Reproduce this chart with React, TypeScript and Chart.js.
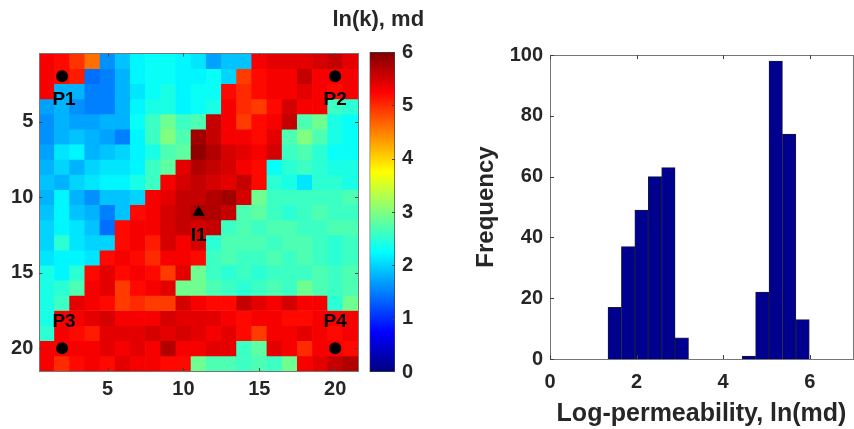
import React, { useEffect, useRef } from 'react';
import { Chart, registerables } from 'chart.js';

Chart.register(...registerables);

// ln(k) field on a 21 x 21 grid, row 1 at the top
const lnkRows: number[][] = [
  [5.3, 5.2, 4.95, 4.6, 1.6, 1.9, 2.2, 2.3, 2.3, 2.2, 2.1, 1.7, 1.9, 1.9, 5.3, 5.4, 5.4, 5.4, 5.5, 5.6, 5.4],
  [5.3, 5.2, 5.1, 1.4, 1.5, 1.8, 2.2, 2.3, 2.3, 2.2, 2.2, 2.3, 2.0, 4.9, 5.2, 5.3, 5.3, 5.6, 5.3, 5.3, 5.3],
  [5.3, 1.8, 1.8, 1.5, 1.5, 1.8, 2.1, 2.3, 2.4, 2.2, 2.3, 2.3, 5.2, 5.0, 5.2, 5.3, 5.3, 5.4, 5.3, 5.2, 5.3],
  [1.7, 1.8, 1.6, 1.5, 1.5, 1.8, 2.2, 2.4, 2.4, 2.2, 2.3, 2.4, 5.3, 5.0, 4.9, 5.2, 5.5, 5.3, 5.3, 2.6, 2.5],
  [1.6, 1.8, 1.7, 1.7, 1.8, 1.8, 2.3, 2.6, 2.9, 2.6, 2.7, 5.6, 5.3, 4.9, 5.2, 5.3, 5.6, 2.7, 2.9, 2.4, 2.3],
  [1.6, 1.8, 1.9, 1.8, 1.7, 1.5, 2.2, 2.6, 3.0, 2.7, 5.8, 5.6, 5.3, 5.3, 5.2, 5.4, 2.7, 3.0, 2.7, 2.4, 2.3],
  [1.7, 2.1, 2.2, 1.8, 1.9, 2.0, 2.2, 2.4, 2.7, 2.8, 5.9, 5.7, 5.5, 5.4, 5.3, 5.5, 2.6, 2.7, 2.5, 2.3, 2.3],
  [1.8, 2.0, 1.8, 2.0, 2.1, 2.1, 2.2, 2.6, 2.8, 5.4, 5.7, 5.6, 5.5, 5.3, 5.2, 2.3, 2.5, 2.6, 2.5, 2.4, 2.4],
  [1.9, 1.8, 2.0, 2.1, 2.2, 2.2, 2.4, 2.6, 5.3, 5.5, 5.6, 5.5, 5.4, 5.6, 5.2, 2.5, 2.4, 2.1, 2.5, 2.5, 2.4],
  [1.8, 2.2, 1.8, 1.6, 1.9, 1.9, 2.0, 5.3, 5.4, 5.6, 5.6, 5.7, 5.8, 5.5, 2.9, 2.6, 2.6, 2.6, 2.6, 2.6, 2.7],
  [1.9, 2.2, 1.9, 1.8, 1.5, 1.9, 5.2, 5.3, 5.5, 5.6, 5.7, 5.7, 5.6, 2.7, 2.8, 2.6, 2.5, 2.6, 2.7, 2.6, 2.6],
  [2.0, 2.2, 2.1, 1.9, 1.4, 5.2, 5.3, 5.3, 5.5, 5.6, 5.5, 5.6, 2.6, 2.7, 2.6, 2.7, 2.7, 2.6, 2.6, 2.7, 2.7],
  [2.0, 2.5, 2.1, 2.0, 2.0, 5.2, 5.3, 5.1, 5.5, 5.3, 5.5, 2.5, 2.7, 2.7, 2.7, 2.6, 2.7, 2.7, 2.6, 2.5, 2.6],
  [2.1, 2.2, 2.2, 2.1, 5.2, 5.3, 5.2, 5.0, 5.3, 5.3, 5.2, 2.6, 2.7, 2.6, 2.6, 2.7, 2.6, 2.7, 2.6, 2.5, 2.6],
  [2.4, 2.2, 2.5, 5.2, 5.4, 5.2, 5.3, 5.2, 4.9, 5.4, 2.9, 2.6, 2.5, 2.6, 2.5, 2.6, 2.6, 2.6, 2.7, 2.6, 2.7],
  [2.4, 2.5, 2.7, 5.3, 5.4, 4.9, 5.2, 5.3, 5.4, 2.9, 2.9, 2.7, 2.6, 2.5, 2.6, 2.7, 2.6, 2.9, 2.7, 2.6, 2.7],
  [2.4, 2.6, 5.4, 5.3, 5.2, 4.9, 5.0, 4.9, 4.9, 5.5, 5.3, 5.2, 5.2, 5.6, 5.4, 5.3, 5.5, 5.3, 5.3, 2.5, 2.9],
  [2.4, 5.3, 5.3, 5.4, 5.5, 5.3, 5.3, 5.3, 5.5, 5.4, 5.4, 5.4, 5.3, 5.2, 5.3, 5.3, 5.2, 5.2, 5.3, 5.3, 5.3],
  [2.5, 5.3, 5.2, 5.1, 5.4, 5.4, 5.4, 5.5, 5.4, 5.5, 5.4, 5.3, 5.4, 5.2, 4.9, 5.3, 5.3, 5.4, 5.3, 5.2, 5.3],
  [5.3, 5.3, 5.3, 5.3, 5.4, 5.3, 5.4, 5.3, 5.7, 5.3, 5.3, 5.4, 5.4, 2.6, 2.8, 5.4, 5.3, 5.0, 5.3, 5.3, 5.2],
  [5.3, 5.0, 5.2, 5.3, 5.2, 5.4, 5.3, 5.3, 5.2, 5.2, 2.9, 2.7, 2.7, 2.6, 2.7, 2.6, 2.9, 5.3, 5.4, 5.6, 5.7],
];

// wells: producers and the injector (grid column, grid row)
const producerNames = ['P1', 'P2', 'P3', 'P4'];
const producerCols = [2, 20, 2, 20];
const producerRows = [2, 2, 20, 20];
const injectorNames = ['I1'];
const injectorCols = [11];
const injectorRows = [11];

const gridTicks = [5, 10, 15, 20];
const colorbarTicks = [0, 1, 2, 3, 4, 5, 6];
const colorbarTitle = 'ln(k), md';

// histogram of ln(k)
const binEdges = [1.34, 1.65, 1.96, 2.27, 2.58, 2.89, 3.2, 3.51, 3.82, 4.13, 4.44, 4.75, 5.06, 5.37, 5.68, 5.99];
const binCounts = [17, 37, 49, 60, 63, 7, 0, 0, 0, 0, 1, 22, 98, 74, 13];
const histXTicks = [0, 2, 4, 6];
const histYTicks = [0, 20, 40, 60, 80, 100];
const histXTitle = 'Log-permeability, ln(md)';
const histYTitle = 'Frequency';

const FONT = '"Liberation Sans", Arial, Helvetica, sans-serif';
const TEXT = '#262626';
const BOX = '#767676';
const CMIN = 0;
const CMAX = 6;

function jetRgb(t: number): [number, number, number] {
  const c = (x: number) => Math.round(255 * Math.min(1, Math.max(0, 1.5 - Math.abs(x))));
  return [c(4 * t - 3), c(4 * t - 2), c(4 * t - 1)];
}

function jet(v: number): string {
  const t = Math.min(1, Math.max(0, (v - CMIN) / (CMAX - CMIN)));
  const [r, g, b] = jetRgb(t);
  return `rgb(${r},${g},${b})`;
}

type TickCfg = {
  color: string;
  len: number;
  xTicks: number[];
  yTicks: number[];
  top: boolean;
  bottom: boolean;
  left: boolean;
  right: boolean;
};

// short inward tick marks on the box edges
function makeInwardTicks(cfg: TickCfg) {
  return {
    id: 'inwardTicks',
    afterDraw(chart: any) {
      const { ctx, chartArea: a } = chart;
      ctx.save();
      ctx.lineWidth = 1;
      ctx.strokeStyle = cfg.color;
      ctx.beginPath();
      for (const v of cfg.xTicks) {
        const px = Math.round(chart.scales.x.getPixelForValue(v)) + 0.5;
        if (cfg.bottom) { ctx.moveTo(px, a.bottom); ctx.lineTo(px, a.bottom - cfg.len); }
        if (cfg.top) { ctx.moveTo(px, a.top); ctx.lineTo(px, a.top + cfg.len); }
      }
      for (const v of cfg.yTicks) {
        const py = Math.round(chart.scales.y.getPixelForValue(v)) + 0.5;
        if (cfg.left) { ctx.moveTo(a.left, py); ctx.lineTo(a.left + cfg.len, py); }
        if (cfg.right) { ctx.moveTo(a.right, py); ctx.lineTo(a.right - cfg.len, py); }
      }
      ctx.stroke();
      ctx.restore();
    },
  };
}

// names next to the well symbols
const wellLabelPlugin = {
  id: 'wellLabels',
  afterDatasetsDraw(chart: any) {
    const { ctx, scales } = chart;
    const names = [...producerNames, ...injectorNames];
    const cols = [...producerCols, ...injectorCols];
    const rows = [...producerRows, ...injectorRows];
    ctx.save();
    ctx.font = `bold 19px ${FONT}`;
    ctx.fillStyle = '#000';
    ctx.textAlign = 'center';
    ctx.textBaseline = 'middle';
    for (let i = 0; i < names.length; i++) {
      const px = scales.x.getPixelForValue(cols[i]);
      const py = scales.y.getPixelForValue(rows[i]);
      const below = rows[i] <= 11;
      const dx = cols[i] < 11 ? 2 : 0;
      ctx.fillText(names[i], px + dx, py + (below ? 24 : -27));
    }
    ctx.restore();
  },
};

const colorbarTitlePlugin = {
  id: 'cbTitle',
  afterDraw(chart: any) {
    const { ctx, chartArea: a } = chart;
    ctx.save();
    ctx.font = `bold 22px ${FONT}`;
    ctx.fillStyle = TEXT;
    ctx.textAlign = 'center';
    ctx.textBaseline = 'middle';
    ctx.fillText(colorbarTitle, (a.left + a.right) / 2 - 4, 20);
    ctx.restore();
  },
};

const tickFont = { family: FONT, size: 20, weight: 'bold' as const };

// an unlabeled axis that only contributes one edge of the box
function edgeAxis(position: 'top' | 'right', min: number, max: number, color: string, reverse = false) {
  return {
    type: 'linear',
    position,
    min,
    max,
    reverse,
    offset: false,
    ticks: { display: false },
    grid: { display: false, drawTicks: false },
    border: { display: true, color, width: 1 },
    afterFit: (s: any) => {
      if (position === 'top') s.height = 0;
      else s.width = 0;
    },
  };
}

function HeatmapChart() {
  const ref = useRef<HTMLCanvasElement>(null);
  useEffect(() => {
    if (!ref.current) return;
    const cellSets = lnkRows.map((row, ri) => ({
      type: 'bar' as const,
      data: row.map((_v, ci) => ({ x: ci + 1, y: [ri + 0.5, ri + 1.5] })),
      backgroundColor: row.map((v) => jet(v)),
      borderWidth: 0,
      barPercentage: 1,
      categoryPercentage: 1,
      grouped: false,
      order: 2,
    }));
    const chart = new Chart(ref.current, {
      type: 'bar',
      data: {
        datasets: [
          ...cellSets,
          {
            type: 'scatter',
            data: producerCols.map((c, i) => ({ x: c, y: producerRows[i] })),
            pointStyle: 'circle',
            pointRadius: 6,
            backgroundColor: '#000',
            borderColor: '#000',
            borderWidth: 0,
            order: 0,
          },
          {
            type: 'scatter',
            data: injectorCols.map((c, i) => ({ x: c, y: injectorRows[i] })),
            pointStyle: 'triangle',
            pointRadius: 7,
            backgroundColor: '#000',
            borderColor: '#000',
            borderWidth: 0,
            order: 0,
          },
        ] as any,
      },
      options: {
        responsive: false,
        animation: false,
        events: [],
        layout: { padding: { top: 53.5, right: 6, left: 0, bottom: 0 } },
        plugins: { legend: { display: false }, tooltip: { enabled: false } },
        scales: {
          x: {
            type: 'linear',
            min: 0.5,
            max: 21.5,
            offset: false,
            afterBuildTicks: (s: any) => { s.ticks = gridTicks.map((v) => ({ value: v })); },
            afterFit: (s: any) => { s.height = 58; },
            grid: { display: false, drawTicks: false },
            border: { display: true, color: BOX, width: 1, z: 1 },
            ticks: { font: tickFont, color: TEXT, padding: 6, maxRotation: 0 },
          },
          y: {
            type: 'linear',
            reverse: true,
            min: 0.5,
            max: 21.5,
            afterBuildTicks: (s: any) => { s.ticks = gridTicks.map((v) => ({ value: v })); },
            afterFit: (s: any) => { s.width = 39.3; },
            grid: { display: false, drawTicks: false },
            border: { display: true, color: BOX, width: 1, z: 1 },
            ticks: { font: tickFont, color: TEXT, padding: 6 },
          },
          xTop: { ...edgeAxis('top', 0.5, 21.5, BOX), border: { display: true, color: BOX, width: 1, z: 1 } },
          yRight: { ...edgeAxis('right', 0.5, 21.5, BOX, true), border: { display: true, color: BOX, width: 1, z: 1 } },
        },
      } as any,
      plugins: [
        wellLabelPlugin,
        makeInwardTicks({ color: '#404040', len: 3, xTicks: gridTicks, yTicks: gridTicks, top: true, bottom: true, left: true, right: true }),
      ],
    });
    return () => chart.destroy();
  }, []);
  return <canvas ref={ref} width={365} height={429} style={{ position: 'absolute', left: 0, top: 0 }} />;
}

function ColorbarChart() {
  const ref = useRef<HTMLCanvasElement>(null);
  useEffect(() => {
    if (!ref.current) return;
    const chart = new Chart(ref.current, {
      type: 'bar',
      data: {
        labels: [''],
        datasets: [
          {
            data: [[CMIN, CMAX]],
            backgroundColor: (ctx: any) => {
              const a = ctx.chart.chartArea;
              if (!a) return '#000';
              const g = ctx.chart.ctx.createLinearGradient(0, a.bottom, 0, a.top);
              for (let i = 0; i <= 64; i++) {
                const [r, gg, b] = jetRgb(i / 64);
                g.addColorStop(i / 64, `rgb(${r},${gg},${b})`);
              }
              return g;
            },
            borderColor: '#404040',
            borderWidth: 1,
            borderSkipped: false,
            barPercentage: 1,
            categoryPercentage: 1,
          },
        ],
      },
      options: {
        responsive: false,
        animation: false,
        events: [],
        layout: { padding: { top: 52, left: 69.5, right: 0, bottom: 57 } },
        plugins: { legend: { display: false }, tooltip: { enabled: false } },
        scales: {
          x: { display: false },
          y: {
            position: 'right',
            min: CMIN,
            max: CMAX,
            afterBuildTicks: (s: any) => { s.ticks = colorbarTicks.map((v) => ({ value: v })); },
            afterFit: (s: any) => { s.width = 55; },
            grid: { display: false, drawTicks: false },
            border: { display: false },
            ticks: { font: tickFont, color: TEXT, padding: 7 },
          },
        },
      } as any,
      plugins: [
        makeInwardTicks({ color: '#404040', len: 3, xTicks: [], yTicks: colorbarTicks.slice(1, -1), top: false, bottom: false, left: false, right: true }),
        colorbarTitlePlugin,
      ],
    });
    return () => chart.destroy();
  }, []);
  return <canvas ref={ref} width={150} height={429} style={{ position: 'absolute', left: 300, top: 0 }} />;
}

function HistogramChart() {
  const ref = useRef<HTMLCanvasElement>(null);
  useEffect(() => {
    if (!ref.current) return;
    const chart = new Chart(ref.current, {
      type: 'bar',
      data: {
        datasets: [
          {
            data: binCounts.map((c, i) => ({ x: (binEdges[i] + binEdges[i + 1]) / 2, y: c })),
            backgroundColor: '#00008f',
            borderColor: '#222222',
            borderWidth: 0.75,
            borderSkipped: 'start',
            barPercentage: 1,
            categoryPercentage: 1,
          },
        ],
      },
      options: {
        responsive: false,
        animation: false,
        events: [],
        layout: { padding: { top: 55, right: 1, left: 0, bottom: 0 } },
        plugins: { legend: { display: false }, tooltip: { enabled: false } },
        scales: {
          x: {
            type: 'linear',
            min: 0,
            max: 7,
            offset: false,
            afterBuildTicks: (s: any) => { s.ticks = histXTicks.map((v) => ({ value: v })); },
            afterFit: (s: any) => { s.height = 70; },
            grid: { display: false, drawTicks: false },
            border: { display: true, color: BOX, width: 1, z: 1 },
            ticks: { font: tickFont, color: TEXT, padding: 11, maxRotation: 0 },
            title: {
              display: true,
              text: histXTitle,
              font: { family: FONT, size: 25, weight: 'bold' },
              color: TEXT,
              padding: { top: 1, bottom: 0 },
            },
          },
          y: {
            min: 0,
            max: 100,
            afterBuildTicks: (s: any) => { s.ticks = histYTicks.map((v) => ({ value: v })); },
            afterFit: (s: any) => { s.width = 120; },
            grid: { display: false, drawTicks: false },
            border: { display: true, color: BOX, width: 1, z: 1 },
            ticks: { font: tickFont, color: TEXT, padding: 7 },
            title: {
              display: true,
              text: histYTitle,
              font: { family: FONT, size: 24, weight: 'bold' },
              color: TEXT,
              padding: { top: 42, bottom: 0 },
            },
          },
          xTop: { ...edgeAxis('top', 0, 7, BOX), border: { display: true, color: BOX, width: 1, z: 1 } },
          yRight: { ...edgeAxis('right', 0, 100, BOX), border: { display: true, color: BOX, width: 1, z: 1 } },
        },
      } as any,
      plugins: [
        makeInwardTicks({ color: '#404040', len: 4, xTicks: histXTicks, yTicks: histYTicks, top: true, bottom: true, left: true, right: false }),
      ],
    });
    return () => chart.destroy();
  }, []);
  return <canvas ref={ref} width={424} height={429} style={{ position: 'absolute', left: 430, top: 0 }} />;
}

export default function App() {
  return (
    <div style={{ position: 'absolute', left: 0, top: 0, width: 854, height: 429, background: '#fff', overflow: 'hidden' }}>
      <HeatmapChart />
      <ColorbarChart />
      <HistogramChart />
    </div>
  );
}
